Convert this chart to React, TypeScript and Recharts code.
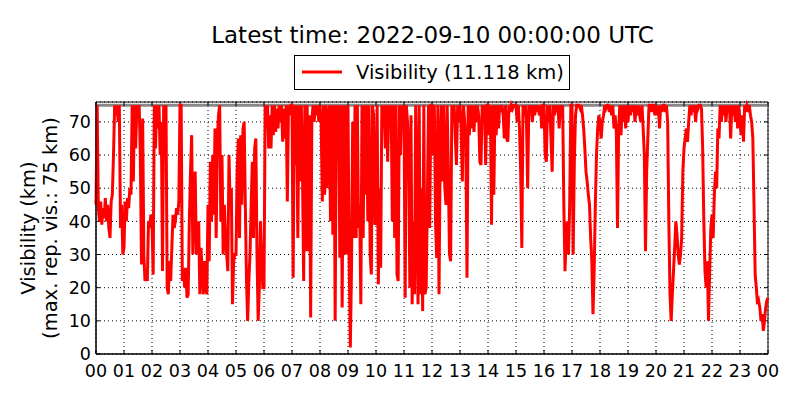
import { CartesianGrid, Line, LineChart, ReferenceArea, ReferenceLine, XAxis, YAxis } from 'recharts'

// Visibility (km), one value every 2.5 minutes, one array per hour (UTC)
const vis00 = [45, 75, 44, 40, 46, 39, 44, 41, 47, 40, 45, 38, 35, 46, 48, 60, 75, 72, 75, 70, 75, 38, 45, 30]
const vis01 = [32, 46, 40, 47, 44, 50, 48, 75, 52, 75, 62, 75, 73, 75, 60, 27, 71, 30, 22, 24, 22, 40, 38, 42]
const vis02 = [40, 24, 75, 62, 75, 68, 75, 60, 70, 25, 75, 72, 75, 20, 18, 28, 22, 32, 42, 38, 40, 44, 42, 46]
const vis03 = [75, 75, 22, 26, 20, 26, 17, 18, 40, 55, 66, 30, 45, 55, 30, 38, 40, 18, 32, 25, 18, 28, 20, 18]
const vis04 = [45, 28, 58, 40, 60, 42, 68, 35, 65, 72, 75, 40, 60, 30, 45, 35, 30, 25, 60, 45, 50, 15, 28, 30]
const vis05 = [30, 55, 65, 35, 66, 45, 68, 70, 45, 22, 10, 22, 30, 45, 58, 35, 62, 65, 30, 10, 20, 40, 28, 20]
const vis06 = [20, 75, 68, 75, 62, 72, 62, 75, 66, 75, 67, 74, 68, 75, 70, 75, 64, 74, 65, 75, 46, 75, 72, 75]
const vis07 = [75, 23, 75, 57, 75, 35, 75, 52, 75, 54, 22, 75, 31, 75, 31, 72, 11, 70, 75, 70, 75, 72, 75, 70]
const vis08 = [75, 70, 46, 75, 48, 75, 50, 72, 75, 40, 75, 36, 75, 10, 75, 72, 75, 29, 75, 14, 75, 30, 75, 30]
const vis09 = [75, 28, 2, 26, 70, 35, 75, 35, 75, 38, 45, 15, 75, 35, 75, 48, 75, 40, 75, 30, 24, 75, 72, 39]
const vis10 = [40, 75, 21, 50, 26, 75, 68, 75, 62, 75, 58, 75, 70, 75, 40, 75, 35, 75, 24, 22, 75, 60, 75, 72]
const vis11 = [75, 17, 75, 70, 62, 20, 72, 15, 40, 18, 75, 48, 15, 75, 18, 50, 13, 75, 18, 20, 45, 75, 38, 75]
const vis12 = [75, 60, 75, 40, 29, 75, 18, 60, 75, 52, 75, 50, 45, 75, 55, 30, 28, 75, 72, 75, 65, 57, 75, 70]
const vis13 = [75, 68, 52, 75, 70, 64, 23, 75, 66, 75, 68, 75, 67, 75, 70, 75, 72, 58, 57, 75, 73, 75, 57, 75]
const vis14 = [75, 66, 75, 39, 75, 48, 75, 66, 75, 68, 75, 73, 75, 72, 65, 75, 65, 64, 75, 73, 75, 74, 75, 75]
const vis15 = [75, 70, 75, 68, 55, 32, 75, 72, 75, 70, 50, 75, 73, 75, 70, 75, 72, 75, 73, 75, 72, 75, 68, 75]
const vis16 = [75, 60, 58, 75, 70, 75, 65, 55, 75, 72, 75, 73, 75, 68, 75, 73, 75, 45, 25, 35, 40, 30, 45, 75]
const vis17 = [75, 30, 58, 72, 75, 75, 75, 74, 75, 72, 68, 62, 55, 52, 48, 45, 35, 28, 12, 25, 45, 60, 68, 72]
const vis18 = [70, 65, 70, 72, 75, 74, 75, 75, 73, 75, 72, 75, 68, 72, 67, 38, 68, 75, 66, 75, 70, 75, 68, 75]
const vis19 = [70, 75, 72, 75, 73, 75, 70, 75, 72, 75, 72, 70, 75, 68, 60, 31, 55, 65, 75, 75, 73, 75, 75, 72]
const vis20 = [75, 72, 75, 68, 75, 73, 75, 75, 73, 75, 70, 40, 18, 10, 18, 25, 32, 40, 36, 30, 27, 30, 35, 55]
const vis21 = [62, 65, 68, 64, 70, 75, 72, 75, 73, 75, 70, 75, 74, 75, 75, 74, 62, 40, 25, 20, 28, 10, 25, 38]
const vis22 = [42, 35, 48, 55, 50, 68, 65, 75, 70, 75, 72, 75, 70, 75, 73, 75, 65, 75, 72, 75, 70, 75, 68, 75]
const vis23 = [70, 66, 72, 64, 75, 73, 75, 74, 75, 72, 70, 65, 45, 24, 20, 15, 16, 14, 10, 12, 7, 10, 14, 16]
const visEnd = 17

const hourTicks = [0, 1, 2, 3, 4, 5, 6, 7, 8, 9, 10, 11, 12, 13, 14, 15, 16, 17, 18, 19, 20, 21, 22, 23, 24]
const visTicks = [0, 10, 20, 30, 40, 50, 60, 70]
const maxReported = 75
const latestValue = '11.118'

const hours = [
  vis00, vis01, vis02, vis03, vis04, vis05, vis06, vis07, vis08, vis09, vis10, vis11,
  vis12, vis13, vis14, vis15, vis16, vis17, vis18, vis19, vis20, vis21, vis22, vis23,
]

const data = hours.flatMap((vals, h) => vals.map((v, i) => ({ t: h + i / vals.length, vis: v })))
data.push({ t: 24, vis: visEnd })

const font = 'DejaVu Sans'
const yMax = 76
// inward tick length in data units (about 4px)
const tickY = 1.2
const tickX = 0.14

export default function App() {
  return (
    <div style={{ position: 'absolute', left: 0, top: 0, width: 800, height: 400, background: '#fff' }}>
      <LineChart width={800} height={400} data={data} margin={{ top: 102, right: 32, bottom: 0, left: 0 }}>
        <CartesianGrid stroke='#000' strokeDasharray='1 3' />
        <XAxis
          dataKey='t'
          type='number'
          domain={[0, 24]}
          ticks={hourTicks}
          interval={0}
          height={46}
          tickLine={false}
          tickSize={6}
          tickMargin={5}
          stroke='#000'
          tick={{ fill: '#000', fontSize: 17.5, fontFamily: font }}
          tickFormatter={(h) => String(h % 24).padStart(2, '0')}
        />
        <YAxis
          type='number'
          domain={[0, yMax]}
          ticks={visTicks}
          width={96}
          tickLine={false}
          tickSize={4}
          tickMargin={1}
          stroke='#000'
          tick={{ fill: '#000', fontSize: 17.5, fontFamily: font }}
        />
        <ReferenceLine y={maxReported} stroke='#888' strokeWidth={3} />
        {hourTicks.map((h) => (
          <ReferenceLine key={'b' + h} segment={[{ x: h, y: 0 }, { x: h, y: tickY }]} stroke='#000' />
        ))}
        {hourTicks.map((h) => (
          <ReferenceLine key={'t' + h} segment={[{ x: h, y: yMax }, { x: h, y: yMax - tickY }]} stroke='#000' />
        ))}
        {visTicks.map((v) => (
          <ReferenceLine key={'l' + v} segment={[{ x: 0, y: v }, { x: tickX, y: v }]} stroke='#000' />
        ))}
        {visTicks.map((v) => (
          <ReferenceLine key={'r' + v} segment={[{ x: 24, y: v }, { x: 24 - tickX, y: v }]} stroke='#000' />
        ))}
        <Line
          type='linear'
          dataKey='vis'
          stroke='#ff0000'
          strokeWidth={3}
          dot={false}
          isAnimationActive={false}
        />
        <ReferenceArea x1={0} x2={24} y1={0} y2={yMax} fill='none' stroke='#000' strokeWidth={1} />
      </LineChart>
      <svg
        width={800}
        height={400}
        style={{ position: 'absolute', left: 0, top: 0, pointerEvents: 'none' }}
        fontFamily={font}
      >
        <text x={432.5} y={35} textAnchor='middle' dominantBaseline='central' fontSize={23}>
          Latest time: 2022-09-10 00:00:00 UTC
        </text>
        <rect x={294.5} y={55.5} width={275} height={34} fill='#fff' stroke='#000' />
        <line x1={302} y1={72} x2={342} y2={72} stroke='#ff0000' strokeWidth={3} />
        <text x={356} y={72} dominantBaseline='central' fontSize={19.5}>
          Visibility ({latestValue} km)
        </text>
        <text x={28} y={228} transform='rotate(-90 28 228)' textAnchor='middle' dominantBaseline='central' fontSize={19.5}>
          Visibility (km)
        </text>
        <text x={50} y={228} transform='rotate(-90 50 228)' textAnchor='middle' dominantBaseline='central' fontSize={19.5}>
          (max. rep. vis.: {maxReported} km)
        </text>
      </svg>
    </div>
  )
}
